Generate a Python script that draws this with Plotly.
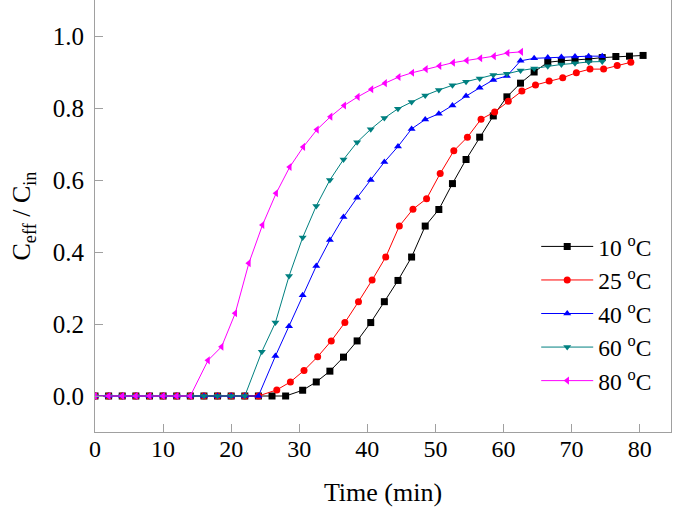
import plotly.graph_objects as go

# ---- data ----
names = ["10 <sup>o</sup>C", "25 <sup>o</sup>C", "40 <sup>o</sup>C", "60 <sup>o</sup>C", "80 <sup>o</sup>C"]

t10 = [0, 2, 4, 6, 8, 10, 12, 14, 16, 18, 20, 22, 24, 26, 28,
       30.5, 32.5, 34.5, 36.5, 38.5, 40.5, 42.5, 44.5, 46.5, 48.5, 50.5, 52.5, 54.5,
       56.5, 58.5, 60.5, 62.5, 64.5, 66.5, 68.5, 70.5, 72.5, 74.5, 76.5, 78.5, 80.5]
c10 = [0] * 15 + [0.016, 0.039, 0.069, 0.108, 0.153, 0.204, 0.262, 0.321, 0.386, 0.472,
                  0.518, 0.59, 0.657, 0.719, 0.778, 0.831, 0.869, 0.9, 0.927, 0.931,
                  0.933, 0.936, 0.94, 0.943, 0.944, 0.946]

t25 = [0, 2, 4, 6, 8, 10, 12, 14, 16, 18, 20, 22, 24,
       26.7, 28.7, 30.7, 32.7, 34.7, 36.7, 38.7, 40.7, 42.7, 44.7, 46.7, 48.7, 50.7,
       52.7, 54.7, 56.7, 58.7, 60.7, 62.7, 64.7, 66.7, 68.7, 70.7, 72.7, 74.7, 76.7, 78.7]
c25 = [0] * 13 + [0.017, 0.039, 0.071, 0.109, 0.153, 0.204, 0.262, 0.322, 0.386, 0.472,
                  0.519, 0.548, 0.618, 0.681, 0.719, 0.769, 0.789, 0.819, 0.847, 0.864,
                  0.875, 0.884, 0.898, 0.908, 0.908, 0.918, 0.927]

t40 = [0, 2, 4, 6, 8, 10, 12, 14, 16, 18, 20, 22, 24,
       26.5, 28.5, 30.5, 32.5, 34.5, 36.5, 38.5, 40.5, 42.5, 44.5, 46.5, 48.5, 50.5,
       52.5, 54.5, 56.5, 58.5, 60.5, 62.5, 64.5, 66.5, 68.5, 70.5, 72.5, 74.5]
c40 = [0] * 13 + [0.111, 0.194, 0.28, 0.361, 0.433, 0.497, 0.551, 0.6, 0.65, 0.693,
                  0.742, 0.768, 0.784, 0.807, 0.833, 0.856, 0.878, 0.889, 0.931, 0.938,
                  0.94, 0.942, 0.943, 0.944, 0.944]

t60 = [0, 2, 4, 6, 8, 10, 12, 14, 16, 18, 20, 22,
       24.5, 26.5, 28.5, 30.5, 32.5, 34.5, 36.5, 38.5, 40.5, 42.5, 44.5, 46.5, 48.5,
       50.5, 52.5, 54.5, 56.5, 58.5, 60.5, 62.5, 64.5, 66.5, 68.5, 70.5, 72.5, 74.5]
c60 = [0] * 12 + [0.123, 0.204, 0.333, 0.44, 0.528, 0.6, 0.657, 0.705, 0.741, 0.772,
                  0.798, 0.817, 0.835, 0.85, 0.863, 0.873, 0.882, 0.892, 0.895, 0.904,
                  0.91, 0.916, 0.921, 0.924, 0.928, 0.929]

t80 = [0, 2, 4, 6, 8, 10, 12, 14,
       16.6, 18.6, 20.6, 22.6, 24.6, 26.6, 28.6, 30.6, 32.6, 34.6, 36.6, 38.6, 40.6,
       42.6, 44.6, 46.6, 48.6, 50.6, 52.6, 54.6, 56.6, 58.6, 60.6, 62.6]
c80 = [0] * 8 + [0.099, 0.137, 0.23, 0.369, 0.475, 0.563, 0.636, 0.692, 0.74, 0.776,
                 0.807, 0.831, 0.852, 0.869, 0.886, 0.898, 0.908, 0.917, 0.926, 0.932,
                 0.938, 0.944, 0.953, 0.956]

x_ticks = [0, 10, 20, 30, 40, 50, 60, 70, 80]
y_ticks = [0.0, 0.2, 0.4, 0.6, 0.8, 1.0]

series = [
    (t10, c10, "#000000", "square"),
    (t25, c25, "#ff0000", "circle"),
    (t40, c40, "#0000ff", "triangle-up"),
    (t60, c60, "#008080", "triangle-down"),
    (t80, c80, "#ff00ff", "triangle-left"),
]

FONT = "Liberation Serif"
AX = "#a0a0a0"

fig = go.Figure()
for (t, c, col, sym), nm in zip(series, names):
    fig.add_trace(go.Scatter(
        x=t, y=c, name=nm, mode="lines+markers",
        line=dict(color=col, width=1),
        marker=dict(symbol=sym, size=7, color=col, line=dict(width=0)),
    ))

fig.update_layout(
    width=675, height=512,
    margin=dict(l=95, r=4, t=0, b=80),
    paper_bgcolor="white", plot_bgcolor="white",
    font=dict(family=FONT, size=24, color="black"),
    showlegend=True,
    legend=dict(x=0.766, y=0.48, xanchor="left", yanchor="top",
                bgcolor="rgba(0,0,0,0)", font=dict(family=FONT, size=23.5, color="black"),
                tracegroupgap=0, itemwidth=52),
)
fig.update_xaxes(
    range=[0, 84.6], tickvals=x_ticks, ticktext=[str(v) for v in x_ticks],
    showline=True, linecolor=AX, linewidth=1, mirror=True,
    ticks="inside", ticklen=8, tickcolor=AX, tickwidth=1,
    showgrid=False, zeroline=False, automargin=False,
    tickfont=dict(family=FONT, size=24, color="black"),
    ticklabelstandoff=-5,
    title=dict(text="Time (min)", font=dict(family=FONT, size=26, color="black"), standoff=22),
)
fig.update_yaxes(
    range=[-0.1, 1.1], tickvals=y_ticks, ticktext=["%.1f" % v for v in y_ticks],
    showline=True, linecolor=AX, linewidth=1, mirror=True,
    ticks="inside", ticklen=8, tickcolor=AX, tickwidth=1,
    showgrid=False, zeroline=False, automargin=False,
    tickfont=dict(family=FONT, size=25, color="black"),
    ticklabelstandoff=5,
    title=dict(text="C<sub>eff</sub> / C<sub>in</sub>", font=dict(family=FONT, size=26, color="black"), standoff=14),
)

fig.write_html("out.html", config={"displayModeBar": False},
               post_script="document.body.style.margin='0';")
